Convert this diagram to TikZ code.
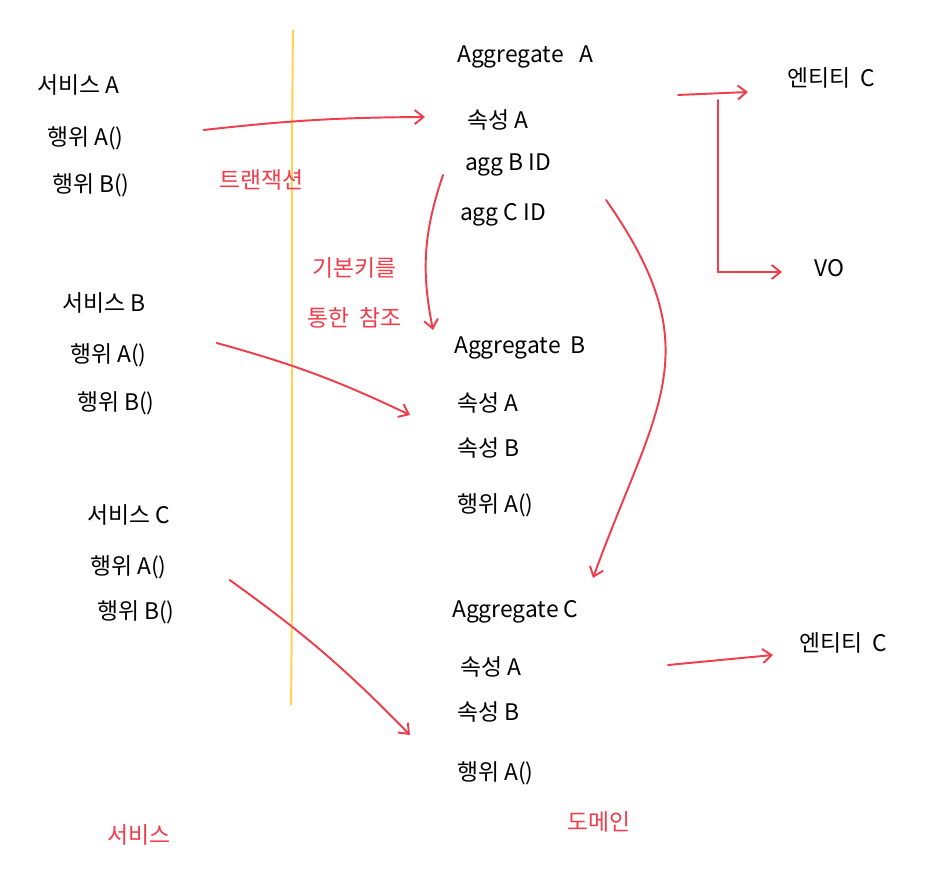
\documentclass[tikz,border=0pt]{standalone}
\usepackage{fontspec}
\setmainfont{Noto Sans CJK KR}
\usetikzlibrary{arrows.meta, calc}

\definecolor{pen-red}{HTML}{F03C4B}
\definecolor{pen-yellow}{HTML}{FFD34D}

\begin{document}
\begin{tikzpicture}[
        x=0.02cm,
        y=-0.02cm,
        black-label/.style={
            anchor=west,
            inner sep=1pt,
            font=\fontsize{13}{15}\selectfont,
        },
        red-label/.style={
            black-label,
            text=pen-red,
        },
        red-arrow/.style={
            draw=pen-red,
            line width=1.1pt,
            line cap=round,
            ->,
            >={Straight Barb[length=5pt, width=8pt]},
        },
    ]
    \useasboundingbox (0, 0) rectangle (950, 881);

    % divider between service and domain
    \draw[pen-yellow, line width=1.1pt] (293, 30) .. controls (290, 300) and (294, 450) .. (291, 705);

    % services
    \node[black-label] (service-a) at (35, 85) {서비스 A};
    \node[black-label] (service-a-1) at (45, 138) {행위 A()};
    \node[black-label] (service-a-2) at (50, 185) {행위 B()};

    \node[black-label] (service-b) at (60, 303) {서비스 B};
    \node[black-label] (service-b-1) at (68, 355) {행위 A()};
    \node[black-label] (service-b-2) at (75, 403) {행위 B()};

    \node[black-label] (service-c) at (85, 515) {서비스 C};
    \node[black-label] (service-c-1) at (88, 567) {행위 A()};
    \node[black-label] (service-c-2) at (95, 612) {행위 B()};

    % aggregates
    \node[black-label] (aggregate-a) at (455, 57) {Aggregate\ \ \ A};
    \node[black-label] (aggregate-a-1) at (465, 120) {속성 A};
    \node[black-label] (aggregate-a-2) at (463, 165) {agg B ID};
    \node[black-label] (aggregate-a-3) at (458, 215) {agg C ID};

    \node[black-label] (aggregate-b) at (452, 348) {Aggregate\ \ B};
    \node[black-label] (aggregate-b-1) at (455, 403) {속성 A};
    \node[black-label] (aggregate-b-2) at (455, 448) {속성 B};
    \node[black-label] (aggregate-b-3) at (455, 505) {행위 A()};

    \node[black-label] (aggregate-c) at (450, 612) {Aggregate C};
    \node[black-label] (aggregate-c-1) at (458, 667) {속성 A};
    \node[black-label] (aggregate-c-2) at (455, 712) {속성 B};
    \node[black-label] (aggregate-c-3) at (455, 773) {행위 A()};

    \node[black-label] (entity-c) at (785, 78) {엔티티\ \ C};
    \node[black-label] (value-object) at (812, 268) {VO};
    \node[black-label] (entity-c-2) at (797, 643) {엔티티\ \ C};

    % red notes
    \node[red-label] (transaction) at (217, 180) {트랜잭션};
    \node[red-label] (pk-1) at (310, 268) {기본키를};
    \node[red-label] (pk-2) at (305, 318) {통한\ \ 참조};
    \node[red-label] (service-label) at (105, 835) {서비스};
    \node[red-label] (domain-label) at (565, 822) {도메인};

    % service to aggregate
    \draw[red-arrow] ($(service-a-1.east)+(78, -8)$) to[bend left=3] ($(aggregate-a-1.west)+(-40, -3)$);
    \draw[red-arrow] ($(service-b-1.east)+(68, -12)$) to[bend left=5] ($(aggregate-b-1.west)+(-45, 12)$);
    \draw[red-arrow] ($(service-c-1.east)+(61, 13)$) to[bend left=5] ($(aggregate-c-2.west)+(-45, 23)$);

    % references by primary key
    \draw[red-arrow] ($(aggregate-a-2.west)+(-20, 10)$) to[bend right=15] ($(aggregate-b.west)+(-19, -18)$);
    \draw[red-arrow] ($(aggregate-a-3.east)+(58, -15)$) to[out=-55, in=70, looseness=1.25] ($(aggregate-c.west)+(143, -34)$);

    % entity and value object
    \draw[red-arrow] ($(aggregate-a.west)+(223, 38)$) -- ($(entity-c.west)+(-37, 14)$);
    \draw[red-arrow] ($(aggregate-a.west)+(263, 43)$) |- ($(value-object.west)+(-30, 4)$);
    \draw[red-arrow] ($(aggregate-c-1.west)+(210, -2)$) -- ($(entity-c-2.west)+(-24, 12)$);
\end{tikzpicture}
\end{document}
